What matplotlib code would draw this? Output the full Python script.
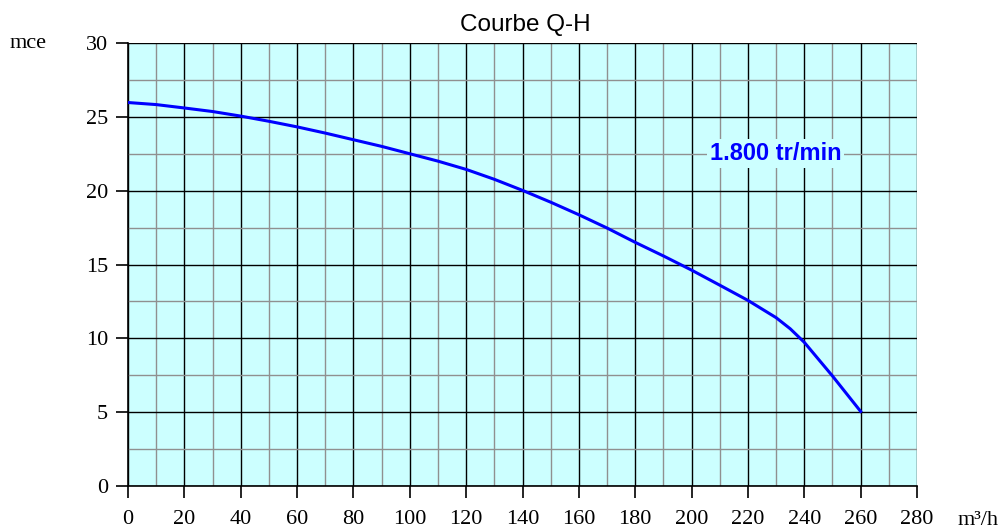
import matplotlib
matplotlib.use("Agg")
import matplotlib.pyplot as plt
from matplotlib.ticker import MultipleLocator

# Courbe Q-H (debit m3/h, hauteur mce)
debit = [0, 10, 20, 30, 40, 50, 60, 70, 80, 90, 100, 110, 120, 130, 140, 150,
         160, 170, 180, 190, 200, 210, 220, 230, 235, 240, 250, 260]
hauteur = [25.97, 25.83, 25.6, 25.36, 25.05, 24.7, 24.32, 23.9, 23.45, 23.0,
           22.5, 22.0, 21.44, 20.77, 20.02, 19.22, 18.37, 17.47, 16.5, 15.58,
           14.62, 13.6, 12.57, 11.4, 10.65, 9.73, 7.45, 5.05]
x_ticks = list(range(0, 281, 20))
y_ticks = list(range(0, 31, 5))

fig = plt.figure(figsize=(10, 5.29), dpi=100)
ax = fig.add_axes([0.128, 0.0813, 0.789, 0.8374])
ax.set_facecolor("#ccffff")

ax.set_xlim(0, 280)
ax.set_ylim(0, 30)
ax.set_xticks(x_ticks)
ax.set_yticks(y_ticks)
ax.xaxis.set_minor_locator(MultipleLocator(10))
ax.yaxis.set_minor_locator(MultipleLocator(2.5))

ax.grid(which="minor", color="#909090", linewidth=1.0)
ax.grid(which="major", color="black", linewidth=1.0)
ax.set_axisbelow(True)

for s in ["top", "right"]:
    ax.spines[s].set_visible(False)
for s in ["left", "bottom"]:
    ax.spines[s].set_linewidth(1.2)

ax.tick_params(which="major", direction="out", length=8.5, width=1.2,
               labelsize=16)
ax.tick_params(which="minor", length=0)
ax.tick_params(axis="x", pad=9)
ax.tick_params(axis="y", pad=6)
for lab in ax.get_xticklabels() + ax.get_yticklabels():
    lab.set_fontfamily("Liberation Serif")

ax.plot(debit, hauteur, color="#0000ff", linewidth=2.2, zorder=3,
        solid_joinstyle="round")

ax.text(229.8, 22.5, "1.800 tr/min", color="#0000ff", fontsize=17,
        fontweight="bold", family="Liberation Sans", ha="center", va="center",
        bbox=dict(facecolor="#ccffff", edgecolor="none", pad=2), zorder=4)

fig.text(0.525, 0.953, "Courbe Q-H", ha="center", va="center", fontsize=17.5,
         family="Liberation Sans")
fig.text(0.028, 0.918, "mce", ha="center", va="center", fontsize=16,
         family="Liberation Serif")
fig.text(0.978, 0.016, "m³/h", ha="center", va="center", fontsize=16,
         family="Liberation Serif")

fig.savefig("out.png", dpi=100)
